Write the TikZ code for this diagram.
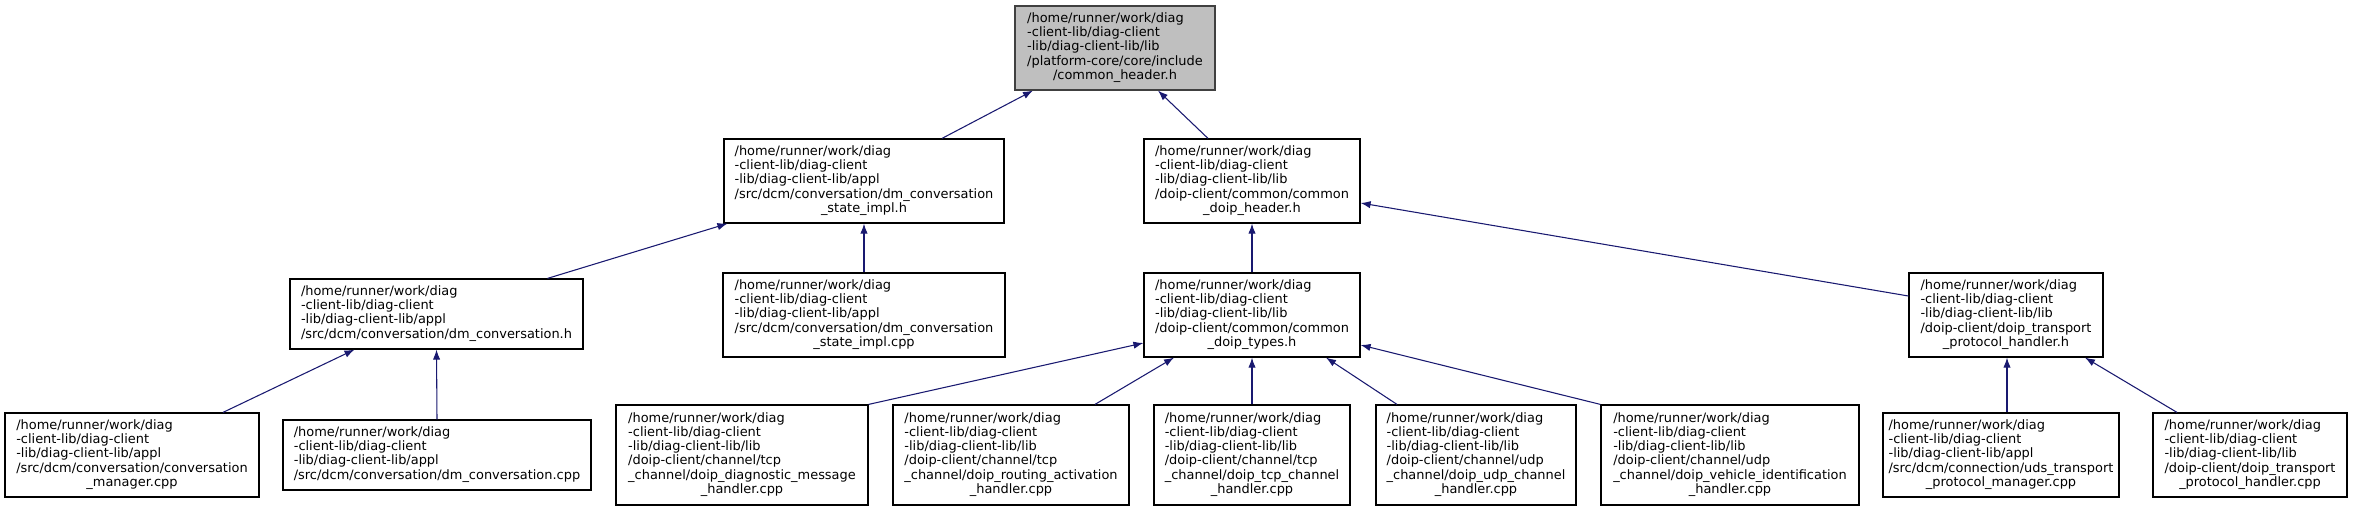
\documentclass[tikz,border=0pt]{standalone}
\usepackage{fontspec}
\setmainfont{DejaVu Sans}
\usepackage{xcolor}
\usepackage{tikz}
\usetikzlibrary{arrows.meta, positioning, calc}
\definecolor{graphedge}{HTML}{191970}
\definecolor{graphroot}{HTML}{BFBFBF}
\definecolor{graphborder}{HTML}{404040}
\newcommand{\filelabel}[2]{\begin{tabular}{@{}l@{}}#1\\\multicolumn{1}{@{}c@{}}{#2}\end{tabular}}
\newcommand{\diagpath}{/home/runner/work/diag\\-client-lib/diag-client\\}

\begin{document}
\begin{tikzpicture}[x=0.75pt, y=-0.75pt,
    filebox/.style={draw=black, line width=0.9pt, fill=white, inner sep=0pt,
      font=\fontsize{9.7}{10.7}\selectfont},
    rootbox/.style={filebox, draw=graphborder, fill=graphroot},
    inclarrow/.style={draw=graphedge, line width=0.8pt, -{Latex[length=7.5pt, width=5.5pt]}}]
  \useasboundingbox (0,0) rectangle (2353,511);

  % top
  \node[rootbox, minimum width=150pt, minimum height=63pt] (root) at (1115,48)
    {\filelabel{\diagpath -lib/diag-client-lib/lib\\/platform-core/core/include}{/common\_header.h}};

  % second row
  \node[filebox, minimum width=210pt, minimum height=63pt] (stimplh) at (864,181)
    {\filelabel{\diagpath -lib/diag-client-lib/appl\\/src/dcm/conversation/dm\_conversation}{\_state\_impl.h}};
  \node[filebox, minimum width=162pt, minimum height=63pt] (header) at (1252,181)
    {\filelabel{\diagpath -lib/diag-client-lib/lib\\/doip-client/common/common}{\_doip\_header.h}};

  % third row
  \node[filebox, minimum width=219.75pt, minimum height=52.5pt] (dmconvh) at (436.5,314)
    {\filelabel{\diagpath -lib/diag-client-lib/appl}{/src/dcm/conversation/dm\_conversation.h}};
  \node[filebox, minimum width=211.5pt, minimum height=63pt] (stimplcpp) at (864,315)
    {\filelabel{\diagpath -lib/diag-client-lib/appl\\/src/dcm/conversation/dm\_conversation}{\_state\_impl.cpp}};
  \node[filebox, minimum width=162pt, minimum height=63pt] (types) at (1252,315)
    {\filelabel{\diagpath -lib/diag-client-lib/lib\\/doip-client/common/common}{\_doip\_types.h}};
  \node[filebox, minimum width=145.5pt, minimum height=63pt] (transh) at (2006,315)
    {\filelabel{\diagpath -lib/diag-client-lib/lib\\/doip-client/doip\_transport}{\_protocol\_handler.h}};

  % bottom row
  \node[filebox, minimum width=190.5pt, minimum height=63pt] (convmgr) at (132,455)
    {\filelabel{\diagpath -lib/diag-client-lib/appl\\/src/dcm/conversation/conversation}{\_manager.cpp}};
  \node[filebox, minimum width=231pt, minimum height=52.5pt] (dmconvcpp) at (437,455)
    {\filelabel{\diagpath -lib/diag-client-lib/appl}{/src/dcm/conversation/dm\_conversation.cpp}};
  \node[filebox, minimum width=189pt, minimum height=75pt] (diagmsg) at (742,455)
    {\filelabel{\diagpath -lib/diag-client-lib/lib\\/doip-client/channel/tcp\\\_channel/doip\_diagnostic\_message}{\_handler.cpp}};
  \node[filebox, minimum width=177pt, minimum height=75pt] (routing) at (1011,455)
    {\filelabel{\diagpath -lib/diag-client-lib/lib\\/doip-client/channel/tcp\\\_channel/doip\_routing\_activation}{\_handler.cpp}};
  \node[filebox, minimum width=147pt, minimum height=75pt] (tcp) at (1252,455)
    {\filelabel{\diagpath -lib/diag-client-lib/lib\\/doip-client/channel/tcp\\\_channel/doip\_tcp\_channel}{\_handler.cpp}};
  \node[filebox, minimum width=150pt, minimum height=75pt] (udp) at (1476,455)
    {\filelabel{\diagpath -lib/diag-client-lib/lib\\/doip-client/channel/udp\\\_channel/doip\_udp\_channel}{\_handler.cpp}};
  \node[filebox, minimum width=193.5pt, minimum height=75pt] (vehicle) at (1730,455)
    {\filelabel{\diagpath -lib/diag-client-lib/lib\\/doip-client/channel/udp\\\_channel/doip\_vehicle\_identification}{\_handler.cpp}};
  \node[filebox, minimum width=177pt, minimum height=63pt] (udsmgr) at (2001,455)
    {\filelabel{\diagpath -lib/diag-client-lib/appl\\/src/dcm/connection/uds\_transport}{\_protocol\_manager.cpp}};
  \node[filebox, minimum width=145.5pt, minimum height=63pt] (transcpp) at (2250,455)
    {\filelabel{\diagpath -lib/diag-client-lib/lib\\/doip-client/doip\_transport}{\_protocol\_handler.cpp}};

  % include edges
  \draw[inclarrow] ($(stimplh.north)+(78,0)$) -- ($(root.south)+(-82,0)$);
  \draw[inclarrow] ($(header.north)+(-44,0)$) -- ($(root.south)+(43,0)$);
  \draw[inclarrow] ($(dmconvh.north)+(111,0)$) -- ($(stimplh.south west)+(4,0)$);
  \draw[inclarrow] (stimplcpp.north) -- (stimplh.south);
  \draw[inclarrow] (types.north) -- (header.south);
  \draw[inclarrow] ($(transh.west)+(0,-19)$) -- ($(header.east)+(0,22)$);
  \draw[inclarrow] ($(convmgr.north)+(91,0)$) -- ($(dmconvh.south)+(-82,0)$);
  \draw[inclarrow] (dmconvcpp.north) -- (dmconvh.south);
  \draw[inclarrow] (diagmsg.north east) -- ($(types.west)+(0,28)$);
  \draw[inclarrow] ($(routing.north)+(84,0)$) -- ($(types.south)+(-78,0)$);
  \draw[inclarrow] (tcp.north) -- (types.south);
  \draw[inclarrow] ($(udp.north)+(-79,0)$) -- ($(types.south)+(74,0)$);
  \draw[inclarrow] (vehicle.north west) -- ($(types.east)+(0,30)$);
  \draw[inclarrow] ($(udsmgr.north)+(6,0)$) -- ($(transh.south)+(1,0)$);
  \draw[inclarrow] ($(transcpp.north)+(-73,0)$) -- ($(transh.south)+(79,0)$);
\end{tikzpicture}
\end{document}
